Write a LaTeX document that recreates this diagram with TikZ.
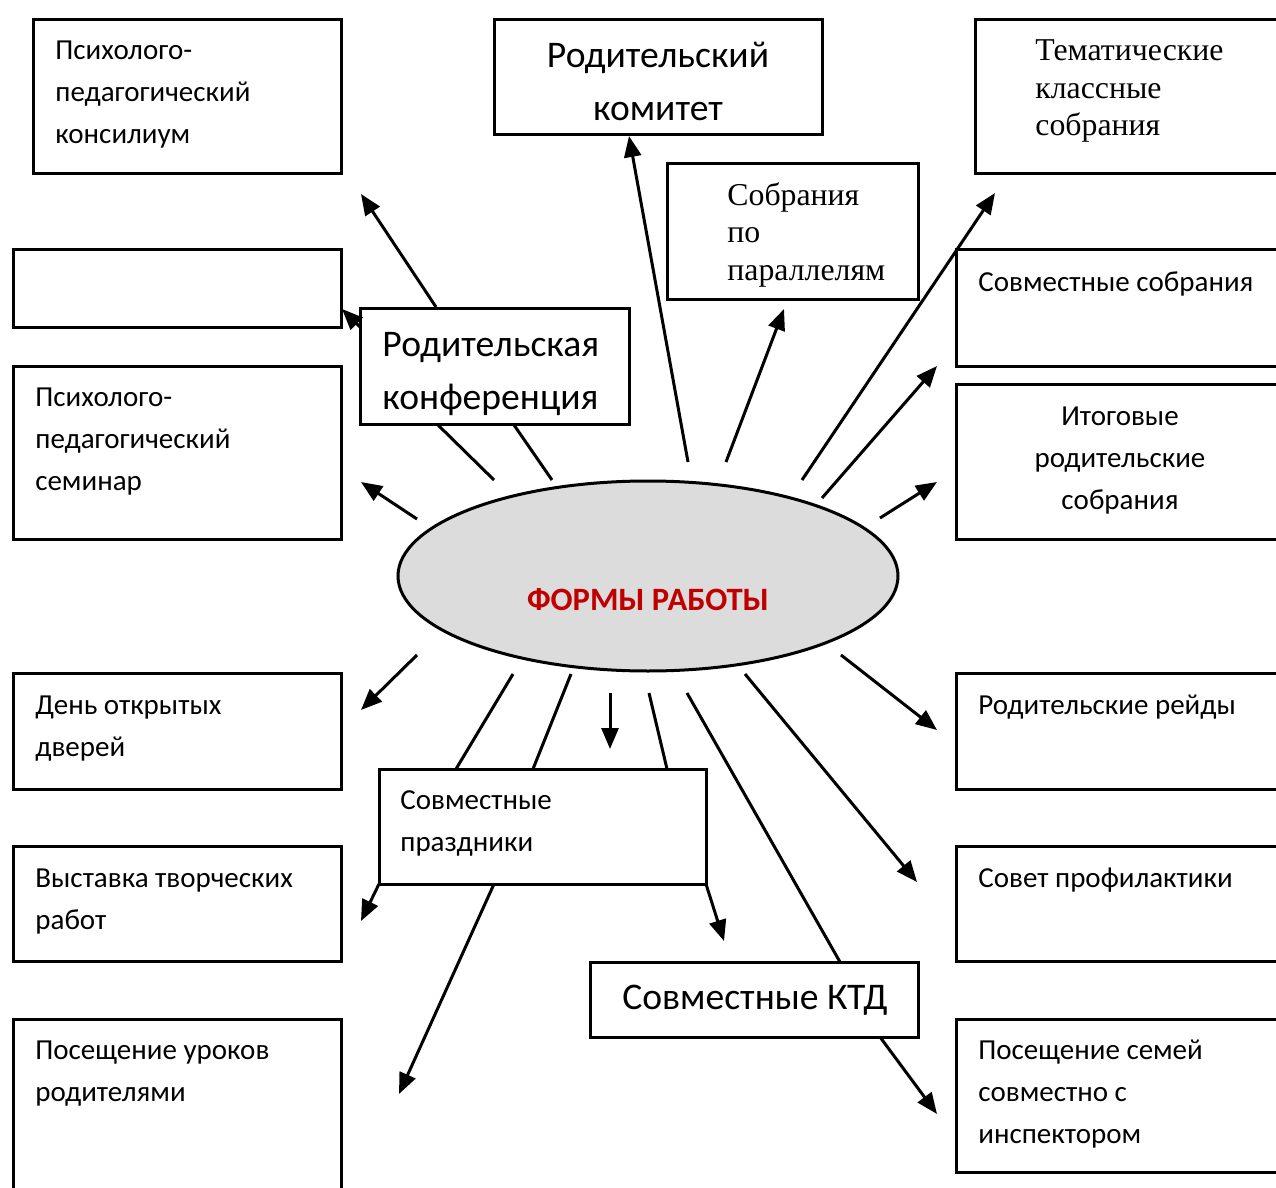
\documentclass[tikz,border=0pt]{standalone}
\usepackage{fontspec}
\setmainfont{Carlito}
\newfontfamily\serifcyr{Liberation Serif}
\usetikzlibrary{arrows.meta,shapes.geometric}
\definecolor{ellfill}{HTML}{DCDCDC}
\definecolor{titlered}{HTML}{C00000}
\tikzset{
  box/.style={draw, line width=1.5pt, rectangle, inner sep=0pt, outer sep=0pt, anchor=north west},
  arr/.style={line width=1.5pt, -{Triangle[length=10.5pt,width=8.5pt]}},
  ln/.style={line width=1.5pt},
  small/.style={font=\fontsize{14.5}{21}\selectfont, align=left, inner sep=0pt, anchor=base west},
  smallc/.style={font=\fontsize{14.5}{21}\selectfont, align=center, inner sep=0pt, anchor=base},
  large/.style={font=\fontsize{18.8}{26.5}\selectfont, align=left, inner sep=0pt, anchor=base west},
  largec/.style={font=\fontsize{18.8}{26.5}\selectfont, align=center, inner sep=0pt, anchor=base},
  serift/.style={font=\serifcyr\fontsize{15.9}{18.75}\selectfont, align=left, inner sep=0pt, anchor=base west},
}
\newcommand{\bx}[5]{\node[box, minimum width={(#4-#2)*0.5pt}, minimum height={(#5-#3)*0.5pt}] (#1) at (#2,#3) {};}
\begin{document}
\begin{tikzpicture}[x=0.5pt,y=-0.5pt]
\useasboundingbox (0,0) rectangle (1276,1188);
\clip (0,0) rectangle (1276,1188);
% boxes
\bx{konsil}{33}{20}{341}{174}
\bx{empty}{13}{250}{341}{327}
\bx{seminar}{13}{366}{341}{539}
\bx{den}{13}{673}{341}{789}
\bx{vyst}{13}{846}{341}{961}
\bx{posur}{13}{1019}{341}{1200}
\bx{komitet}{494}{20}{822}{135}
\bx{paral}{667}{164}{918}{299}
\bx{temat}{975}{20}{1290}{174}
\bx{sovsobr}{956}{250}{1290}{366}
\bx{itog}{956}{384}{1290}{539}
\bx{reid}{956}{673}{1290}{789}
\bx{sovet}{956}{846}{1290}{961}
\bx{possem}{956}{1019}{1290}{1172}
\bx{konf}{360}{308}{629}{424}
\bx{prazd}{379}{769}{706}{884}
\bx{ktd}{590}{962}{918}{1037}
% ellipse
\node[draw, line width=1.5pt, fill=ellfill, ellipse, minimum width=250pt, minimum height=95pt, inner sep=0pt] (formy) at (648,576) {};
\node[font=\bfseries\fontsize{16.3}{18}\selectfont, text=titlered, inner sep=0pt, anchor=base] (formyt) at (648,610) {ФОРМЫ РАБОТЫ};
% texts (anchor = baseline of the last line)
\node[small] (t1) at (55,144) {Психолого-\\педагогический\\консилиум};
\node[small] (t3) at (35,490) {Психолого-\\педагогический\\семинар};
\node[small] (t4) at (35,756) {День открытых\\дверей};
\node[small] (t5) at (35,929) {Выставка творческих\\работ};
\node[small] (t6) at (35,1101) {Посещение уроков\\родителями};
\node[largec] (t7) at (658,121) {Родительский\\комитет};
\node[serift] (t8) at (727,280) {Собрания\\по\\параллелям};
\node[serift] (t9) at (1035,136) {Тематические\\классные\\собрания};
\node[small] (t10) at (978,292) {Совместные собрания};
\node[smallc] (t11) at (1120,509) {Итоговые\\родительские\\собрания};
\node[small] (t12) at (978,714) {Родительские рейды};
\node[small] (t13) at (978,887) {Совет профилактики};
\node[small] (t14) at (978,1143) {Посещение семей\\совместно с\\инспектором};
\node[large] (t15) at (382,409) {Родительская\\конференция};
\node[small] (t16) at (400,851) {Совместные\\праздники};
\node[largec] (t17) at (755,1009) {Совместные КТД};
% connector coordinates
\coordinate (a1s) at (436,307); \coordinate (a1e) at (361,194);
\coordinate (a2s) at (360,327); \coordinate (a2e) at (342,309);
\coordinate (l1s) at (494,480); \coordinate (l1e) at (438,425);
\coordinate (l2s) at (552,480); \coordinate (l2e) at (514,425);
\coordinate (a4s) at (417,519); \coordinate (a4e) at (361,482);
\coordinate (a5s) at (688,462); \coordinate (a5e) at (629,136);
\coordinate (a6s) at (726,462); \coordinate (a6e) at (784,309);
\coordinate (a7s) at (802,480); \coordinate (a7e) at (995,193);
\coordinate (a8s) at (822,498); \coordinate (a8e) at (937,366);
\coordinate (a9s) at (880,518); \coordinate (a9e) at (937,482);
\coordinate (a10s) at (417,655); \coordinate (a10e) at (361,710);
\coordinate (l3s) at (513,674); \coordinate (l3e) at (456,769);
\coordinate (l4s) at (571,674); \coordinate (l4e) at (533,769);
\coordinate (a13s) at (610,693); \coordinate (a13e) at (610,749);
\coordinate (l5s) at (649,693); \coordinate (l5e) at (667,769);
\coordinate (l6s) at (687,693); \coordinate (l6e) at (840,962);
\coordinate (a16s) at (745,674); \coordinate (a16e) at (917,882);
\coordinate (a17s) at (841,655); \coordinate (a17e) at (937,730);
\coordinate (a18s) at (379,884); \coordinate (a18e) at (361,921);
\coordinate (a19s) at (494,884); \coordinate (a19e) at (399,1094);
\coordinate (a20s) at (706,884); \coordinate (a20e) at (724,941);
\coordinate (a21s) at (880,1037); \coordinate (a21e) at (937,1114);
% connectors
\draw[arr] (a1s) -- (a1e);
\draw[arr] (a2s) -- (a2e);
\draw[ln] (l1s) -- (l1e);
\draw[ln] (l2s) -- (l2e);
\draw[arr] (a4s) -- (a4e);
\draw[arr] (a5s) -- (a5e);
\draw[arr] (a6s) -- (a6e);
\draw[arr] (a7s) -- (a7e);
\draw[arr] (a8s) -- (a8e);
\draw[arr] (a9s) -- (a9e);
\draw[arr] (a10s) -- (a10e);
\draw[ln] (l3s) -- (l3e);
\draw[ln] (l4s) -- (l4e);
\draw[arr] (a13s) -- (a13e);
\draw[ln] (l5s) -- (l5e);
\draw[ln] (l6s) -- (l6e);
\draw[arr] (a16s) -- (a16e);
\draw[arr] (a17s) -- (a17e);
\draw[arr] (a18s) -- (a18e);
\draw[arr] (a19s) -- (a19e);
\draw[arr] (a20s) -- (a20e);
\draw[arr] (a21s) -- (a21e);
\end{tikzpicture}
\end{document}
